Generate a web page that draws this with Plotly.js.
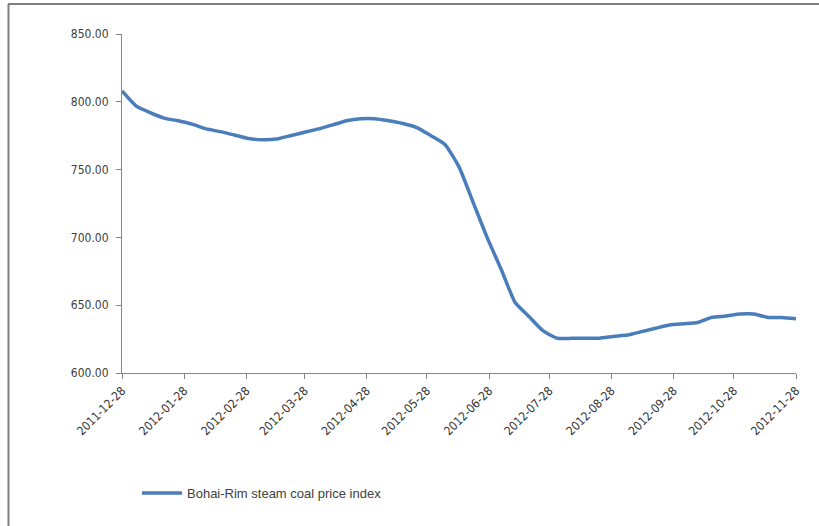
<!DOCTYPE html>
<html>
<head>
<meta charset="utf-8">
<script src="https://cdn.plot.ly/plotly-3.0.1.min.js"></script>
<style>
html,body{margin:0;padding:0;background:#fff;}
#chart{width:819px;height:526px;}
</style>
</head>
<body>
<div id="chart"></div>
<script>
const dates = [
"2011-12-28","2012-01-04","2012-01-11","2012-01-18","2012-01-25",
"2012-02-01","2012-02-08","2012-02-15","2012-02-22","2012-02-29",
"2012-03-07","2012-03-14","2012-03-21","2012-03-28",
"2012-04-04","2012-04-11","2012-04-18","2012-04-25",
"2012-05-02","2012-05-09","2012-05-16","2012-05-23","2012-05-30",
"2012-06-06","2012-06-13","2012-06-20","2012-06-27",
"2012-07-04","2012-07-11","2012-07-18","2012-07-25",
"2012-08-01","2012-08-08","2012-08-15","2012-08-22","2012-08-29",
"2012-09-05","2012-09-12","2012-09-19","2012-09-26",
"2012-10-03","2012-10-10","2012-10-17","2012-10-24","2012-10-31",
"2012-11-07","2012-11-14","2012-11-21","2012-11-28"];
const priceIndex = [
808,797,792,788,786,
783.5,780,778,775.5,773,
772,772.5,775,777.5,
780,783,786,787.5,
787.5,786,784,781,775,
768.5,752,726,700,
676.5,652,641.5,631,
625.6,625.6,625.6,625.6,627,
628,630.5,633,635.4,
636.3,637.2,641,642,643.5,
643.5,641,641,640];
const tickDates = ["2011-12-28","2012-01-28","2012-02-28","2012-03-28","2012-04-28","2012-05-28",
"2012-06-28","2012-07-28","2012-08-28","2012-09-28","2012-10-28","2012-11-28"];
const seriesName = "Bohai-Rim steam coal price index";

const trace = {
  x: dates, y: priceIndex, type: "scatter", mode: "lines", name: seriesName,
  line: {color: "#4A7EBB", width: 3.5, shape: "spline", smoothing: 0.5}
};

const W = 819, H = 526, L = 122, R = 23, T = 34, B = 153;
const pw = W - L - R, ph = H - T - B;
const px = v => (v - L) / pw;
const py = v => (H - B - v) / ph;

const layout = {
  width: W, height: H,
  margin: {l: L, r: R, t: T, b: B, pad: 0},
  paper_bgcolor: "#fff", plot_bgcolor: "#fff",
  font: {family: "DejaVu Sans Condensed, Liberation Sans, sans-serif", size: 12, color: "#404040"},
  showlegend: true,
  legend: {x: px(137), y: py(493), xanchor: "left", yanchor: "middle", orientation: "h",
           font: {family: "Liberation Sans, Arial, sans-serif", size: 13, color: "#404040"},
           bgcolor: "rgba(0,0,0,0)", itemwidth: 40},
  xaxis: {
    type: "date", range: ["2011-12-28", "2012-11-28"],
    tickvals: tickDates, ticktext: tickDates, tickangle: -45,
    showgrid: false, zeroline: false, showline: true, linecolor: "#868686", linewidth: 1,
    ticks: "outside", ticklen: 5, tickcolor: "#868686",
    tickfont: {size: 12, color: "#333333"}
  },
  yaxis: {
    range: [600, 850], tickvals: [600,650,700,750,800,850], tickformat: ".2f",
    showgrid: false, zeroline: false, showline: true, linecolor: "#868686", linewidth: 1,
    ticks: "outside", ticklen: 5, tickcolor: "#868686", ticklabelstandoff: 5,
    tickfont: {size: 12, color: "#404040"}
  },
  shapes: [
    {type: "line", xref: "paper", yref: "paper", x0: px(8), x1: px(819), y0: py(4), y1: py(4),
     line: {color: "#808080", width: 2}},
    {type: "line", xref: "paper", yref: "paper", x0: px(8.5), x1: px(8.5), y0: py(4), y1: py(526),
     line: {color: "#808080", width: 2}}
  ]
};

Plotly.newPlot("chart", [trace], layout, {displayModeBar: false, staticPlot: true});
</script>
</body>
</html>
